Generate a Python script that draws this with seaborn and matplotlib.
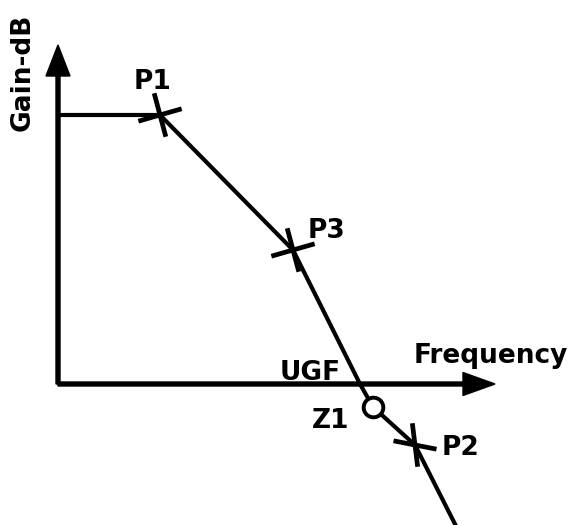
import matplotlib
matplotlib.use("Agg")
import matplotlib.pyplot as plt
from matplotlib.markers import MarkerStyle
from matplotlib.path import Path
import numpy as np
import seaborn as sns
import pandas as pd

# Bode sketch: origin of the axes = (0, 0), gain up, frequency right
curve_freq = [0, 102, 235, 302, 315, 357, 400]
curve_gain = [269, 269, 134, 0, -23, -61, -146]

pole_names = ["P1", "P3", "P2"]
pole_freq = [102, 235, 357]
pole_gain = [269, 134, -61]

zero_names = ["Z1"]
zero_freq = [315]
zero_gain = [-23]


def tick_cross(a1, a2):
    # two crossing strokes at the given angles (degrees)
    t1, t2 = np.radians(a1), np.radians(a2)
    v1 = np.array([np.cos(t1), np.sin(t1)]) * 0.5
    v2 = np.array([np.cos(t2), np.sin(t2)]) * 0.5
    verts = [-v1, v1, -v2, v2]
    codes = [Path.MOVETO, Path.LINETO, Path.MOVETO, Path.LINETO]
    return MarkerStyle(Path(verts, codes), fillstyle="none")


sns.set_theme(style="white")
plt.rcParams["font.family"] = ["DejaVu Sans"]

fig = plt.figure(figsize=(5.76, 5.25), dpi=100)
ax = fig.add_axes([0, 0, 1, 1])
ax.set_xlim(-58, 518)
ax.set_ylim(-141, 384)
ax.axis("off")

# axes with arrow heads
ax.arrow(0, 0, 0, 339, width=4, head_width=24, head_length=31,
         length_includes_head=True, color="black", zorder=2)
ax.arrow(0, 0, 437, 0, width=4, head_width=23, head_length=32,
         length_includes_head=True, color="black", zorder=2)

curve = pd.DataFrame({"freq": curve_freq, "gain": curve_gain})
sns.lineplot(data=curve, x="freq", y="gain", sort=False, color="black",
             linewidth=3, ax=ax, zorder=3)

poles = pd.DataFrame({"freq": pole_freq, "gain": pole_gain, "name": pole_names})
sns.scatterplot(data=poles.iloc[:2], x="freq", y="gain", marker=tick_cross(105, 16),
                s=980, color="black", edgecolor="black", linewidth=3.4, ax=ax, zorder=4)
sns.scatterplot(data=poles.iloc[2:], x="freq", y="gain", marker=tick_cross(97, -11),
                s=980, color="black", edgecolor="black", linewidth=3.4, ax=ax, zorder=4)

zeros = pd.DataFrame({"freq": zero_freq, "gain": zero_gain, "name": zero_names})
sns.scatterplot(data=zeros, x="freq", y="gain", marker="o", s=200,
                facecolor="white", edgecolor="black", linewidth=2.8, ax=ax, zorder=5)

font = dict(fontsize=19, fontweight="bold", color="black")
ax.text(95, 295, "P1", ha="center", va="baseline", **font)
ax.text(269, 146, "P3", ha="center", va="baseline", **font)
ax.text(403, -71, "P2", ha="center", va="baseline", **font)
ax.text(273, -44, "Z1", ha="center", va="baseline", **font)
ax.text(252, 4, "UGF", ha="center", va="baseline", **font)
ax.text(433, 21, "Frequency", ha="center", va="baseline", **font)
ax.text(-35, 312, "Gain-dB", ha="center", va="center", rotation=90, **font)

fig.savefig("out.png", dpi=100)
